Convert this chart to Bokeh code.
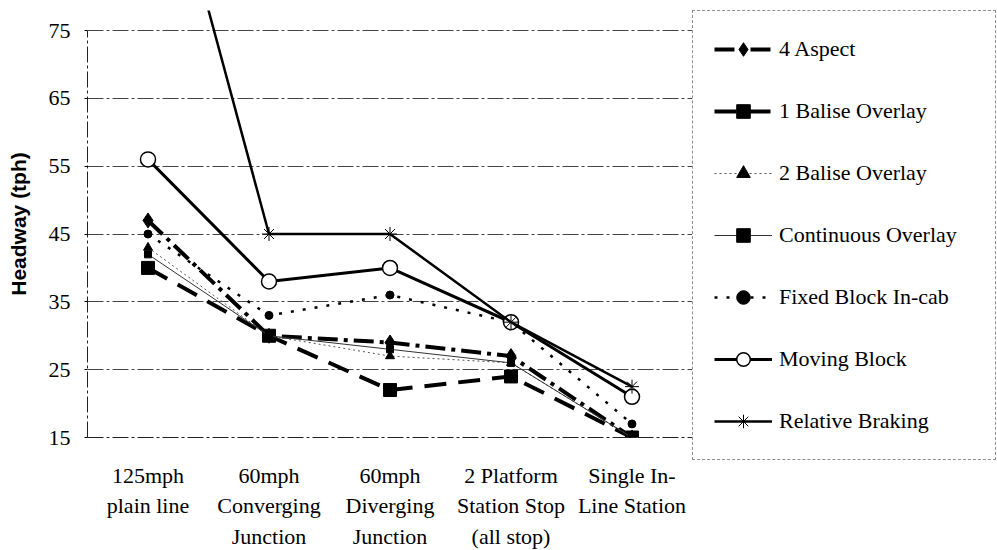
from bokeh.plotting import figure
from bokeh.models import Range1d, FixedTicker, Legend, LegendItem, FactorRange
from bokeh.embed import file_html
from bokeh.resources import INLINE

categories = ["125mph\nplain line", "60mph\nConverging\nJunction", "60mph\nDiverging\nJunction",
              "2 Platform\nStation Stop\n(all stop)", "Single In-\nLine Station"]
y_ticks = [15, 25, 35, 45, 55, 65, 75]

four_aspect = [47, 30, 29, 27, 15]
one_balise = [40, 30, 22, 24, 15]
two_balise = [43, 30, 27, 26, 15]
continuous = [42, 30, 28, 26, 15]
fixed_block = [45, 33, 36, 32, 17]
moving_block = [56, 38, 40, 32, 21]
relative_braking = [111, 45, 45, 32, 22.5]

p = figure(frame_width=605, frame_height=427, x_range=FactorRange(*categories), y_range=Range1d(15, 77.95),
           output_backend="svg", toolbar_location=None,
           min_border_left=87, min_border_right=0, min_border_top=10, min_border_bottom=105)
p.outline_line_color = None
p.background_fill_color = "white"
p.border_fill_color = "white"

# grid
p.xgrid.grid_line_color = None
p.ygrid.ticker = FixedTicker(ticks=y_ticks)
p.ygrid.grid_line_color = "#444444"
p.ygrid.grid_line_width = 1
p.ygrid.grid_line_dash = "16 3 3 3"

# axes
p.yaxis.ticker = FixedTicker(ticks=y_ticks)
p.yaxis.bounds = (15, 75)
p.yaxis.axis_label = "Headway (tph)"
p.yaxis.axis_label_text_font = "Liberation Sans"
p.yaxis.axis_label_text_font_style = "bold"
p.yaxis.axis_label_text_font_size = "21px"
p.yaxis.axis_label_text_color = "black"
p.yaxis.axis_label_standoff = 16
p.yaxis.major_label_text_font = "Liberation Serif"
p.yaxis.major_label_text_font_size = "22px"
p.yaxis.major_label_text_color = "black"
p.yaxis.major_label_standoff = 14
p.yaxis.major_tick_out = 3
p.yaxis.major_tick_in = 0
p.yaxis.minor_tick_line_color = None
p.yaxis.axis_line_color = "#222222"
p.yaxis.axis_line_dash = "16 3 3 3"

p.xaxis.major_label_text_font = "Liberation Serif"
p.xaxis.major_label_text_font_size = "22px"
p.xaxis.major_label_text_color = "black"
p.xaxis.major_label_text_line_height = 1.22
p.xaxis.major_label_standoff = 25
p.xaxis.major_tick_out = 0
p.xaxis.major_tick_in = 0
p.xaxis.axis_line_color = "#222222"
p.xaxis.axis_line_dash = "16 3 3 3"

items = []

def add_series(name, vals, lw, dash, color, marker, msize, fill, lcolor=None):
    lr = p.line(categories, vals, line_width=lw, line_dash=dash, line_color=color)
    sr = p.scatter(categories, vals, marker=marker, size=msize, fill_color=fill,
                   line_color=lcolor or "black", line_width=1.5 if fill == "white" else 1)
    items.append(LegendItem(label=name, renderers=[lr, sr]))

add_series("4 Aspect", four_aspect, 4, "20 6 4 6", "black", "diamond", 15, "black")
add_series("1 Balise Overlay", one_balise, 4, "22 12", "black", "square", 13, "black")
add_series("2 Balise Overlay", two_balise, 1, "2 3", "#555555", "triangle", 9, "black")
add_series("Continuous Overlay", continuous, 1, "solid", "#333333", "square", 7, "black")
add_series("Fixed Block In-cab", fixed_block, 2.5, "3 9", "black", "circle", 8, "black")
add_series("Moving Block", moving_block, 3, "solid", "black", "circle", 15, "white")
add_series("Relative Braking", relative_braking, 2.5, "solid", "black", "asterisk", 14, "black")

legend = Legend(items=items, location="top_left")
legend.margin = 0
legend.label_text_font = "Liberation Serif"
legend.label_text_font_size = "22px"
legend.label_text_color = "black"
legend.padding = 21
legend.spacing = 28
legend.glyph_width = 58
legend.glyph_height = 34
legend.label_height = 34
legend.label_width = 195
legend.label_standoff = 7
legend.border_line_color = "#222222"
legend.border_line_dash = "10 3"
legend.border_line_width = 1
legend.background_fill_color = "white"
legend.background_fill_alpha = 1
p.add_layout(legend, "right")

open("out.html", "w").write(file_html(p, INLINE))
